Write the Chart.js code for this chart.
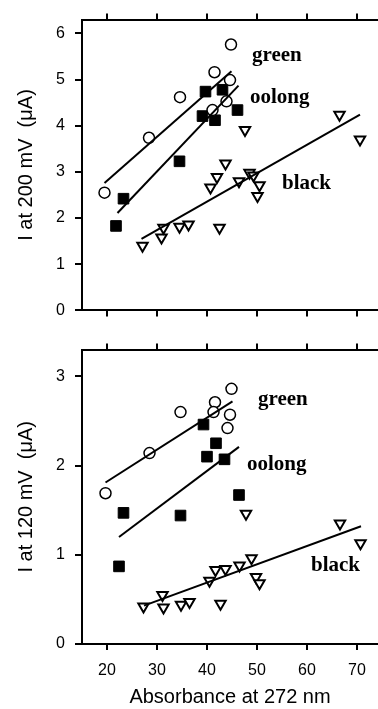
<!DOCTYPE html>
<html>
<head>
<meta charset="utf-8">
<script src="https://cdn.jsdelivr.net/npm/chart.js@4/dist/chart.umd.min.js"></script>
<style>
  body { margin: 0; background: #fff; }
  canvas { display: block; }
</style>
</head>
<body>
<canvas id="chart200" width="378" height="330"></canvas>
<canvas id="chart120" width="378" height="379"></canvas>
<script>
// tick labels
const absTicks = [20, 30, 40, 50, 60, 70]
const ticks200 = [0, 1, 2, 3, 4, 5, 6]
const ticks120 = [0, 1, 2, 3]

// I at 200 mV
const green200Abs = [19.5, 28.4, 34.6, 41.5, 41.1, 44.6, 43.9, 44.8]
const green200Cur = [2.55, 3.74, 4.62, 5.16, 4.34, 4.99, 4.53, 5.76]
const oolong200Abs = [21.8, 23.3, 34.5, 39.7, 39.1, 41.6, 43.1, 46.1]
const oolong200Cur = [1.83, 2.42, 3.23, 4.74, 4.21, 4.12, 4.78, 4.34]
const black200Abs = [27.1, 30.9, 31.3, 34.5, 36.3, 42.5, 40.7, 42.0, 43.7, 47.6, 46.4, 48.5, 49.3, 50.5, 50.1, 66.5, 70.6]
const black200Cur = [1.40, 1.58, 1.79, 1.81, 1.86, 1.79, 2.66, 2.89, 3.18, 3.91, 2.80, 2.98, 2.92, 2.71, 2.48, 4.24, 3.70]
// fitted lines (end points)
const green200Fit = [[19.5, 2.76], [44.9, 5.18]]
const oolong200Fit = [[22.1, 2.11], [46.3, 4.87]]
const black200Fit = [[26.9, 1.55], [70.6, 4.24]]

// I at 120 mV
const green120Abs = [19.7, 28.5, 34.7, 41.6, 41.3, 44.9, 44.6, 44.1]
const green120Cur = [1.69, 2.14, 2.60, 2.71, 2.60, 2.86, 2.57, 2.42]
const oolong120Abs = [22.4, 23.3, 34.7, 39.3, 40.0, 41.8, 43.5, 46.4]
const oolong120Cur = [0.87, 1.47, 1.44, 2.46, 2.10, 2.25, 2.07, 1.67]
const black120Abs = [27.3, 31.1, 31.3, 34.8, 36.5, 42.7, 40.5, 41.7, 43.7, 46.5, 48.9, 49.8, 50.5, 47.8, 66.6, 70.7]
const black120Cur = [0.42, 0.55, 0.41, 0.44, 0.47, 0.45, 0.71, 0.83, 0.84, 0.88, 0.96, 0.75, 0.68, 1.46, 1.35, 1.13]
const green120Fit = [[19.7, 1.81], [45.1, 2.72]]
const oolong120Fit = [[22.4, 1.20], [46.4, 2.21]]
const black120Fit = [[27.4, 0.43], [70.8, 1.32]]

const teaNames = ['green', 'oolong', 'black']

;(() => {
    'use strict'

    const sans = '"Liberation Sans", Arial, sans-serif'
    const pts = (xs, ys) => xs.map((v, i) => ({ x: v, y: ys[i] }))
    const seg = a => a.map(p => ({ x: p[0], y: p[1] }))

    // tea names written inside the plot
    const tagPlugin = {
        id: 'tags',
        afterDatasetsDraw(chart, args, opts) {
            const { ctx, scales: { x, y } } = chart
            ctx.save()
            ctx.font = 'bold 21px "Liberation Serif", "Times New Roman", serif'
            ctx.fillStyle = '#000'
            ctx.textBaseline = 'middle'
            opts.items.forEach(t => {
                ctx.fillText(t.text, x.getPixelForValue(t.x), y.getPixelForValue(t.y))
            })
            ctx.restore()
        }
    }

    const axisGrid = {
        drawOnChartArea: false,
        drawTicks: true,
        tickLength: 6,
        color: '#000',
        lineWidth: 2
    }
    const axisBorder = { display: true, color: '#000', width: 2 }

    function makeSets(g, o, b) {
        return [
            { data: seg(g.fit), showLine: true, pointRadius: 0, borderColor: '#000', borderWidth: 2 },
            { data: seg(o.fit), showLine: true, pointRadius: 0, borderColor: '#000', borderWidth: 2 },
            { data: seg(b.fit), showLine: true, pointRadius: 0, borderColor: '#000', borderWidth: 2 },
            {
                data: pts(g.x, g.y), pointStyle: 'circle', pointRadius: 5.5,
                backgroundColor: '#fff', borderColor: '#000', borderWidth: 1.5
            },
            {
                data: pts(o.x, o.y), pointStyle: 'rect', pointRadius: 7.5,
                backgroundColor: '#000', borderColor: '#000', borderWidth: 1
            },
            {
                data: pts(b.x, b.y), pointStyle: 'triangle', rotation: 180, pointRadius: 6,
                backgroundColor: '#fff', borderColor: '#000', borderWidth: 2
            }
        ]
    }

    function makeChart(el, cfg) {
        const bottomAxis = cfg.withLabels
        return new Chart(document.getElementById(el), {
            type: 'scatter',
            data: { datasets: cfg.sets },
            plugins: [tagPlugin],
            options: {
                responsive: false,
                animation: false,
                layout: {
                    autoPadding: false,
                    padding: { top: cfg.padTop, left: 0, right: 0, bottom: 0 }
                },
                plugins: {
                    legend: { display: false },
                    tooltip: { enabled: false },
                    tags: { items: cfg.tags }
                },
                scales: {
                    x: {
                        type: 'linear',
                        position: 'bottom',
                        min: 15,
                        max: 74.2,
                        afterBuildTicks: s => { s.ticks = absTicks.map(v => ({ value: v })) },
                        afterFit: s => { s.height = cfg.xHeight },
                        ticks: {
                            display: bottomAxis,
                            color: '#000',
                            padding: 11,
                            maxRotation: 0,
                            font: { family: sans, size: 16 }
                        },
                        grid: axisGrid,
                        border: axisBorder,
                        title: {
                            display: bottomAxis,
                            text: 'Absorbance at 272 nm',
                            color: '#000',
                            padding: { top: 0, bottom: 0 },
                            font: { family: sans, size: 20 }
                        }
                    },
                    xTop: {
                        type: 'linear',
                        position: 'top',
                        min: 15,
                        max: 74.2,
                        afterBuildTicks: s => { s.ticks = absTicks.map(v => ({ value: v })) },
                        afterFit: s => { s.height = 6 },
                        ticks: { display: false },
                        grid: axisGrid,
                        border: axisBorder
                    },
                    y: {
                        type: 'linear',
                        min: 0,
                        max: cfg.yMax,
                        afterBuildTicks: s => { s.ticks = cfg.yTicks.map(v => ({ value: v })) },
                        afterFit: s => { s.width = 82 },
                        ticks: {
                            color: '#000',
                            padding: 10,
                            font: { family: sans, size: 16 }
                        },
                        grid: Object.assign({}, axisGrid, { tickLength: 7 }),
                        border: axisBorder,
                        title: {
                            display: true,
                            text: cfg.yTitle,
                            color: '#000',
                            padding: { top: 14, bottom: 0 },
                            font: { family: sans, size: 20 }
                        }
                    }
                }
            }
        })
    }

    // eslint-disable-next-line no-unused-vars
    const chart200 = makeChart('chart200', {
        sets: makeSets(
            { x: green200Abs, y: green200Cur, fit: green200Fit },
            { x: oolong200Abs, y: oolong200Cur, fit: oolong200Fit },
            { x: black200Abs, y: black200Cur, fit: black200Fit }
        ),
        padTop: 10,
        xHeight: 17,
        withLabels: false,
        yMax: 6.3,
        yTicks: ticks200,
        yTitle: 'I at 200 mV  (\u03bcA)',
        tags: [
            { text: teaNames[0], x: 49, y: 5.51 },
            { text: teaNames[1], x: 48.6, y: 4.62 },
            { text: teaNames[2], x: 55, y: 2.75 }
        ]
    })

    // eslint-disable-next-line no-unused-vars
    const chart120 = makeChart('chart120', {
        sets: makeSets(
            { x: green120Abs, y: green120Cur, fit: green120Fit },
            { x: oolong120Abs, y: oolong120Cur, fit: oolong120Fit },
            { x: black120Abs, y: black120Cur, fit: black120Fit }
        ),
        padTop: 11,
        xHeight: 65,
        withLabels: true,
        yMax: 3.3,
        yTicks: ticks120,
        yTitle: 'I at 120 mV  (\u03bcA)',
        tags: [
            { text: teaNames[0], x: 50.2, y: 2.74 },
            { text: teaNames[1], x: 48, y: 2.01 },
            { text: teaNames[2], x: 60.8, y: 0.88 }
        ]
    })
})()
</script>
</body>
</html>
